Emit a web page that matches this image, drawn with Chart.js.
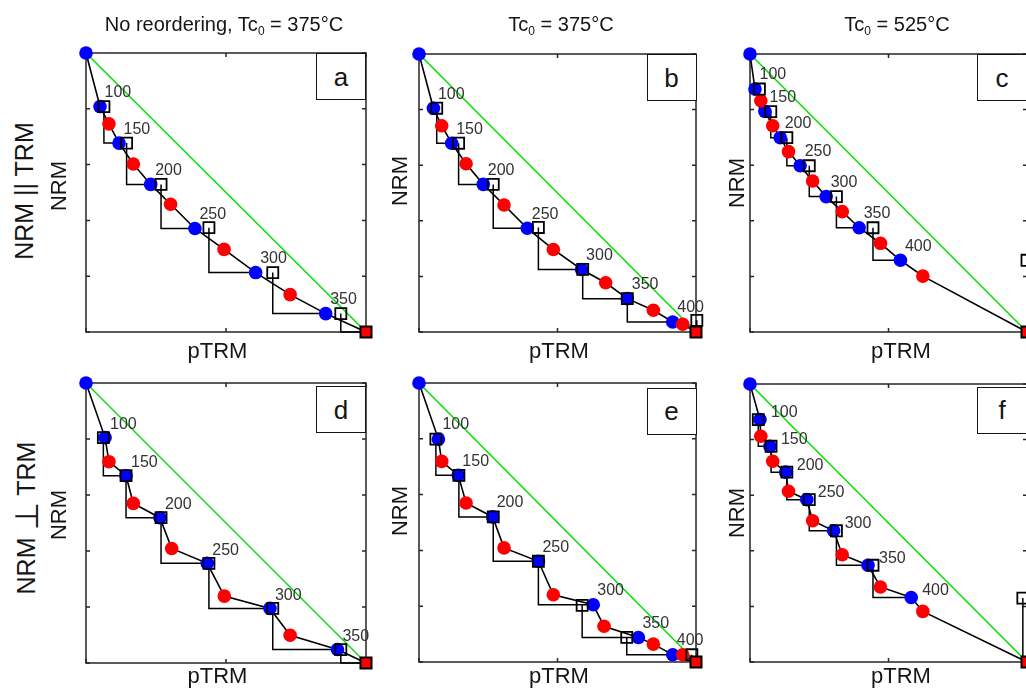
<!DOCTYPE html>
<html><head><meta charset="utf-8">
<script src="https://cdn.jsdelivr.net/npm/chart.js@4/dist/chart.umd.min.js"></script>
<style>
html,body{margin:0;padding:0;width:1026px;height:692px;overflow:hidden;background:#fff;}
canvas{position:absolute;}
.t{position:absolute;font-family:"Liberation Sans",Arial,sans-serif;color:#151515;white-space:nowrap;line-height:1;}
.sub{font-size:0.6em;position:relative;top:0.35em;}
.perp{font-family:"DejaVu Sans",sans-serif;font-size:1.3em;position:relative;top:0.08em;}
.box{position:absolute;background:#fff;border:1.5px solid #151515;box-sizing:border-box;font-family:"Liberation Sans",Arial,sans-serif;font-size:26px;color:#151515;display:flex;align-items:center;justify-content:center;line-height:1;}
</style></head><body>
<script>
// ---------- data (normalised pTRM / NRM) ----------
const X_TICKS = [0, 0.5, 1];
const Y_TICKS = [0, 0.2, 0.4, 0.6, 0.8, 1];
const GREEN_X = [0, 1];
const GREEN_Y = [1, 0];
const FINAL_X = [1];
const FINAL_Y = [0];
const TEMPS_6 = ['100', '150', '200', '250', '300', '350'];
const TEMPS_7 = ['100', '150', '200', '250', '300', '350', '400'];

// panel a
const A_BLUE_X = [0, 0.050, 0.118, 0.231, 0.389, 0.606, 0.856];
const A_BLUE_Y = [1, 0.808, 0.677, 0.529, 0.371, 0.213, 0.066];
const A_RED_X  = [0.082, 0.169, 0.302, 0.493, 0.729];
const A_RED_Y  = [0.746, 0.602, 0.458, 0.296, 0.134];
const A_SQ_X   = [0.064, 0.145, 0.268, 0.439, 0.667, 0.910];
const A_SQ_Y   = [0.808, 0.677, 0.529, 0.374, 0.213, 0.066];
// panel b
const B_BLUE_X = [0, 0.052, 0.118, 0.232, 0.391, 0.587, 0.752, 0.916];
const B_BLUE_Y = [1, 0.805, 0.679, 0.531, 0.373, 0.225, 0.120, 0.036];
const B_RED_X  = [0.082, 0.170, 0.307, 0.485, 0.674, 0.846, 0.952];
const B_RED_Y  = [0.742, 0.605, 0.457, 0.297, 0.177, 0.078, 0.028];
const B_SQ_X   = [0.064, 0.143, 0.268, 0.431, 0.591, 0.752, 1.003];
const B_SQ_Y   = [0.805, 0.679, 0.531, 0.376, 0.225, 0.120, 0.042];
// panel c
const C_BLUE_X = [0, 0.018, 0.054, 0.109, 0.181, 0.275, 0.394, 0.543];
const C_BLUE_Y = [1, 0.874, 0.793, 0.699, 0.598, 0.487, 0.375, 0.258];
const C_RED_X  = [0.039, 0.082, 0.139, 0.226, 0.333, 0.471, 0.624];
const C_RED_Y  = [0.832, 0.742, 0.649, 0.543, 0.433, 0.319, 0.201];
const C_SQ_X   = [0.034, 0.075, 0.133, 0.214, 0.312, 0.444, 1.000];
const C_SQ_Y   = [0.874, 0.793, 0.699, 0.598, 0.487, 0.375, 0.258];
// panel d
const D_BLUE_X = [0, 0.068, 0.143, 0.264, 0.433, 0.657, 0.898];
const D_BLUE_Y = [1, 0.805, 0.669, 0.519, 0.356, 0.195, 0.048];
const D_RED_X  = [0.082, 0.169, 0.306, 0.494, 0.729];
const D_RED_Y  = [0.719, 0.570, 0.409, 0.239, 0.099];
const D_SQ_X   = [0.062, 0.143, 0.268, 0.439, 0.667, 0.910];
const D_SQ_Y   = [0.805, 0.669, 0.519, 0.356, 0.195, 0.048];
// panel e
const E_BLUE_X = [0, 0.070, 0.142, 0.266, 0.431, 0.629, 0.792, 0.916];
const E_BLUE_Y = [1, 0.799, 0.669, 0.520, 0.361, 0.205, 0.088, 0.026];
const E_RED_X  = [0.082, 0.170, 0.307, 0.485, 0.668, 0.846, 0.952];
const E_RED_Y  = [0.719, 0.570, 0.409, 0.241, 0.128, 0.064, 0.026];
const E_SQ_X   = [0.061, 0.144, 0.268, 0.431, 0.589, 0.750, 0.985];
const E_SQ_Y   = [0.799, 0.669, 0.520, 0.361, 0.203, 0.088, 0.026];
// panel f
const F_BLUE_X = [0, 0.036, 0.072, 0.129, 0.205, 0.302, 0.426, 0.582];
const F_BLUE_Y = [1, 0.872, 0.776, 0.683, 0.584, 0.472, 0.348, 0.232];
const F_RED_X  = [0.039, 0.082, 0.139, 0.226, 0.333, 0.471, 0.624];
const F_RED_Y  = [0.812, 0.722, 0.614, 0.508, 0.386, 0.270, 0.182];
const F_SQ_X   = [0.030, 0.076, 0.133, 0.214, 0.312, 0.444, 0.985];
const F_SQ_Y   = [0.872, 0.776, 0.683, 0.584, 0.472, 0.348, 0.230];

// ---------- layout ----------
const PANELS = [
  {letter:'a', bx:A_BLUE_X, by:A_BLUE_Y, rx:A_RED_X, ry:A_RED_Y, sx:A_SQ_X, sy:A_SQ_Y, labels:TEMPS_6, area:[86,53,280,279], off:[4.5,-14], box:[316,53]},
  {letter:'b', bx:B_BLUE_X, by:B_BLUE_Y, rx:B_RED_X, ry:B_RED_Y, sx:B_SQ_X, sy:B_SQ_Y, labels:TEMPS_7, area:[419,54,277,278], off:[4.5,-14], box:[646.5,54]},
  {letter:'c', bx:C_BLUE_X, by:C_BLUE_Y, rx:C_RED_X, ry:C_RED_Y, sx:C_SQ_X, sy:C_SQ_Y, labels:TEMPS_7, area:[750,54,277,278], off:[4.5,-14], box:[977,54]},
  {letter:'d', bx:D_BLUE_X, by:D_BLUE_Y, rx:D_RED_X, ry:D_RED_Y, sx:D_SQ_X, sy:D_SQ_Y, labels:TEMPS_6, area:[86,383,280,280], off:[5,-13], box:[316,386]},
  {letter:'e', bx:E_BLUE_X, by:E_BLUE_Y, rx:E_RED_X, ry:E_RED_Y, sx:E_SQ_X, sy:E_SQ_Y, labels:TEMPS_7, area:[419,383,277,279], off:[4,-14], box:[646.5,387.5]},
  {letter:'f', bx:F_BLUE_X, by:F_BLUE_Y, rx:F_RED_X, ry:F_RED_Y, sx:F_SQ_X, sy:F_SQ_Y, labels:TEMPS_7, area:[750,384,277,278], off:[11,-7], box:[977,386.5]}
];
const PAD = 20;

function pts(xs, ys){ return xs.map((v,i)=>({x:v, y:ys[i]})); }

function makePlugin(p, blue){
  return {
    id:'arai_'+p.letter,
    beforeDatasetsDraw(chart){
      const {ctx, chartArea:a, scales:{x, y}} = chart;
      ctx.save();
      ctx.strokeStyle = '#262626'; ctx.lineWidth = 1.5;
      ctx.strokeRect(a.left, a.top, a.right - a.left, a.bottom - a.top);
      ctx.beginPath();
      X_TICKS.forEach(v=>{ const px = x.getPixelForValue(v);
        ctx.moveTo(px, a.bottom); ctx.lineTo(px, a.bottom - 4);
        ctx.moveTo(px, a.top); ctx.lineTo(px, a.top + 4); });
      Y_TICKS.forEach(v=>{ const py = y.getPixelForValue(v);
        ctx.moveTo(a.left, py); ctx.lineTo(a.left + 4, py);
        ctx.moveTo(a.right, py); ctx.lineTo(a.right - 4, py); });
      ctx.stroke();
      ctx.restore();
    },
    afterDatasetsDraw(chart){
      const {ctx, scales:{x, y}} = chart;
      ctx.save();
      ctx.font = '16px "Liberation Sans", Arial, sans-serif';
      ctx.fillStyle = '#333';
      ctx.textAlign = 'left'; ctx.textBaseline = 'middle';
      p.labels.forEach((t,i)=>{
        const b = blue[i+1];
        ctx.fillText(t, x.getPixelForValue(b.x) + p.off[0], y.getPixelForValue(b.y) + p.off[1]);
      });
      ctx.restore();
    }
  };
}

PANELS.forEach(p=>{
  const [L,T,W,H] = p.area;
  const cv = document.createElement('canvas');
  cv.width = W + 2*PAD; cv.height = H + 2*PAD;
  cv.style.left = (L - PAD) + 'px'; cv.style.top = (T - PAD) + 'px';
  cv.style.width = cv.width + 'px'; cv.style.height = cv.height + 'px';
  document.body.appendChild(cv);

  const blue = pts(p.bx, p.by), red = pts(p.rx, p.ry), sq = pts(p.sx, p.sy), fin = pts(FINAL_X, FINAL_Y);
  const path = [blue[0]];
  for (let i = 1; i < blue.length; i++){ path.push(blue[i]); if (red[i-1]) path.push(red[i-1]); }
  path.push(fin[0]);
  const checks = sq.map((s,k)=>{ const t = blue[k+2] || fin[0]; return [s, {x:s.x, y:t.y}, t]; });

  const lineDs = (data, color, w, order)=>({data, showLine:true, borderColor:color, borderWidth:w, pointRadius:0, tension:0, order, clip:false, fill:false});
  const datasets = [
    {data:fin, pointStyle:'rect', pointRadius:7.8, backgroundColor:'#ff0000', borderColor:'#000', borderWidth:2, order:0, clip:false},
    {data:sq, pointStyle:'rect', pointRadius:7.8, backgroundColor:'rgba(0,0,0,0)', borderColor:'#000', borderWidth:1.8, order:1, clip:false},
    {data:red, pointStyle:'circle', pointRadius:6.8, backgroundColor:'#ff0000', borderWidth:0, order:2, clip:false},
    {data:blue, pointStyle:'circle', pointRadius:6.8, backgroundColor:'#0000ff', borderWidth:0, order:3, clip:false},
    lineDs(path, '#000', 1.6, 4),
    ...checks.map(c=>lineDs(c, '#000', 1.5, 5)),
    lineDs(pts(GREEN_X, GREEN_Y), '#00e000', 1.5, 6)
  ];

  new Chart(cv, {
    type:'scatter',
    data:{datasets},
    options:{
      responsive:false, animation:false, events:[], devicePixelRatio:1,
      layout:{padding:PAD},
      plugins:{legend:{display:false}, tooltip:{enabled:false}},
      scales:{
        x:{type:'linear', min:0, max:1, display:false},
        y:{type:'linear', min:0, max:1, display:false}
      }
    },
    plugins:[makePlugin(p, blue)]
  });

  const bx = document.createElement('div');
  bx.className = 'box';
  bx.style.left = p.box[0] + 'px'; bx.style.top = p.box[1] + 'px';
  bx.style.width = '50px'; bx.style.height = '47px';
  bx.textContent = p.letter;
  document.body.appendChild(bx);
});

// ---------- text ----------
function hText(html, cx, baseline, size){
  const d = document.createElement('div');
  d.className = 't'; d.innerHTML = html;
  d.style.fontSize = size + 'px';
  d.style.left = cx + 'px'; d.style.top = (baseline - 0.8465*size) + 'px';
  d.style.transform = 'translateX(-50%)';
  document.body.appendChild(d);
}
function vText(html, baseX, cy, size){
  const d = document.createElement('div');
  d.className = 't'; d.innerHTML = html;
  d.style.fontSize = size + 'px';
  d.style.left = (baseX - 0.3465*size) + 'px'; d.style.top = cy + 'px';
  d.style.transform = 'translate(-50%,-50%) rotate(-90deg)';
  document.body.appendChild(d);
}
const TITLES = ['No reordering, Tc<span class="sub">0</span> = 375°C', 'Tc<span class="sub">0</span> = 375°C', 'Tc<span class="sub">0</span> = 525°C'];
hText(TITLES[0], 224, 31, 20);
hText(TITLES[1], 561, 31, 20);
hText(TITLES[2], 897, 31, 20);
[[217.5,358.3],[559,358.3],[901,358.3],[217.5,683.3],[559,683.3],[901,683.3]].forEach(([cx,b])=>hText('pTRM', cx, b, 22));
[[66.7,186],[407.5,181],[745,182.5],[66.7,515],[407.5,511],[745,512.5]].forEach(([bx,cy])=>vText('NRM', bx, cy, 22));
vText('NRM || TRM', 32.3, 191, 25);
vText('NRM <span class="perp">⊥</span> TRM', 32.3, 518, 25);
</script>
</body></html>
